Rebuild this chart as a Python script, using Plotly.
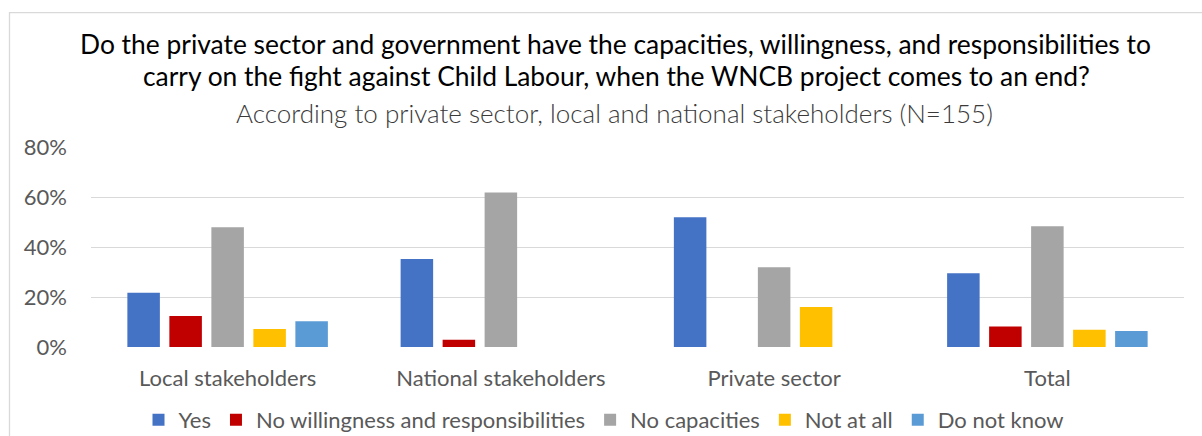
import plotly.graph_objects as go

# Survey responses by stakeholder group (share of respondents)
categories = ["Local stakeholders", "National stakeholders", "Private sector", "Total"]
series_names = ["Yes", "No willingness and responsibilities", "No capacities", "Not at all", "Do not know"]
yes_vals = [0.217, 0.352, 0.519, 0.295]
no_will_vals = [0.124, 0.029, 0.0, 0.082]
no_cap_vals = [0.479, 0.618, 0.319, 0.483]
not_at_all_vals = [0.072, 0.0, 0.160, 0.069]
dont_know_vals = [0.103, 0.0, 0.0, 0.064]
y_tick_vals = [0, 0.2, 0.4, 0.6, 0.8]
y_tick_text = ["0%", "20%", "40%", "60%", "80%"]

colors = ["#4472C4", "#C00000", "#A5A5A5", "#FFC000", "#5B9BD5"]
values = [yes_vals, no_will_vals, no_cap_vals, not_at_all_vals, dont_know_vals]

FONT = "Lato"
GREY_TEXT = "#595959"
AXIS_SIZE = 22

W, H = 1202, 436
L, R, T, B = 91, 18, 147, 89
plot_w = W - L - R
plot_h = H - T - B


def px_x(px):
    return (px - L) / plot_w


def px_y(py):
    return (H - B - py) / plot_h


fig = go.Figure()
for name, vals, col in zip(series_names, values, colors):
    fig.add_trace(go.Bar(
        x=categories, y=vals, name=name,
        marker=dict(color=col, line=dict(width=0)),
        hoverinfo="skip",
    ))

fig.update_layout(
    width=W, height=H,
    margin=dict(l=L, r=R, t=T, b=B, pad=0, autoexpand=False),
    paper_bgcolor="white", plot_bgcolor="white",
    barmode="group", bargap=0.2315, bargroupgap=0.226,
    font=dict(family=FONT, size=AXIS_SIZE, color=GREY_TEXT),
    showlegend=True,
    legend=dict(
        orientation="h", x=px_x(604), xanchor="center", y=px_y(420), yanchor="middle",
        font=dict(family=FONT, size=AXIS_SIZE, color=GREY_TEXT),
        itemclick=False, itemdoubleclick=False, tracegroupgap=0,
    ),
    xaxis=dict(
        showgrid=False, showline=False, ticks="", zeroline=False,
        tickfont=dict(family=FONT, size=AXIS_SIZE, color=GREY_TEXT),
        ticklabelstandoff=16, automargin=False,
    ),
    yaxis=dict(
        range=[0, 0.8], tickvals=y_tick_vals, ticktext=y_tick_text,
        showgrid=True, gridcolor="#D9D9D9", gridwidth=1.3,
        zeroline=False, showline=False, ticks="",
        tickfont=dict(family=FONT, size=AXIS_SIZE, color=GREY_TEXT),
        ticklabelstandoff=23, automargin=False,
    ),
    shapes=[dict(
        type="rect", xref="paper", yref="paper",
        x0=px_x(9.5), x1=px_x(1230), y0=px_y(12.7), y1=px_y(470),
        line=dict(color="#D9D9D9", width=1.3), fillcolor="rgba(0,0,0,0)", layer="below",
    )],
    annotations=[
        dict(text="Do the private sector and government have the capacities, willingness, and responsibilities to",
             xref="paper", yref="paper", x=px_x(615), y=px_y(44), xanchor="center", yanchor="middle",
             showarrow=False, font=dict(family=FONT, size=26.4, color="#000000")),
        dict(text="carry on the fight against Child Labour, when the WNCB project comes to an end?",
             xref="paper", yref="paper", x=px_x(616), y=px_y(76), xanchor="center", yanchor="middle",
             showarrow=False, font=dict(family=FONT, size=26.4, color="#000000")),
        dict(text="According to private sector, local and national stakeholders (N=155)",
             xref="paper", yref="paper", x=px_x(614), y=px_y(113), xanchor="center", yanchor="middle",
             showarrow=False, font=dict(family=FONT + " Light, " + FONT, size=26, color="#3A3A3A")),
    ],
)

fig.write_html("out.html")
